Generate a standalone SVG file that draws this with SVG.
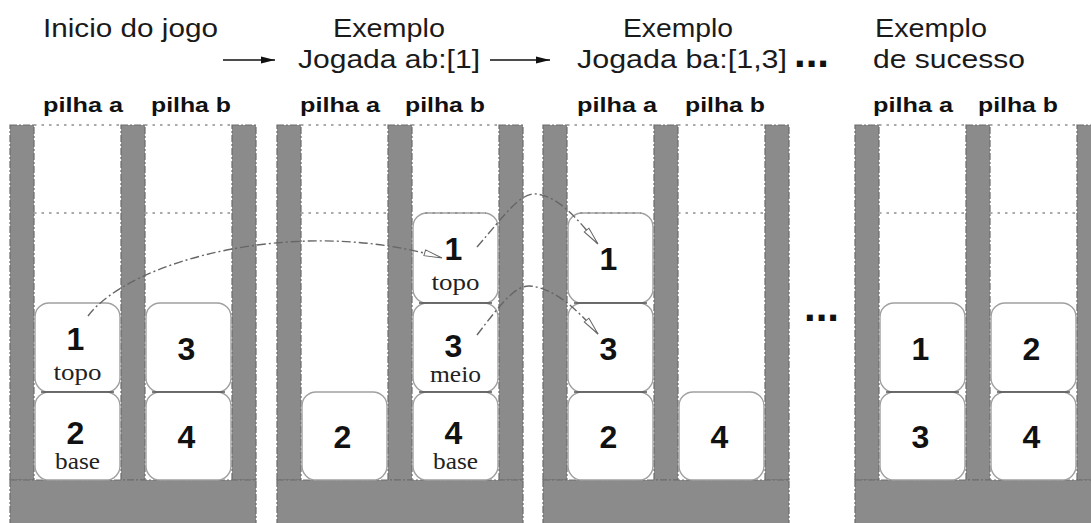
<svg xmlns="http://www.w3.org/2000/svg" width="1091" height="523" viewBox="0 0 1091 523">
  <defs>
    <style>
      .title{font-family:"Liberation Sans",Arial,sans-serif;font-size:26px;fill:#1a1a1a}
      .head{font-family:"Liberation Sans",Arial,sans-serif;font-size:21px;font-weight:bold;fill:#111}
      .num{font-family:"Liberation Sans",Arial,sans-serif;font-size:32px;font-weight:bold;fill:#111;text-anchor:middle}
      .lbl{font-family:"Liberation Serif","Times New Roman",serif;font-size:23px;fill:#222;text-anchor:middle}
      .more{font-family:"Liberation Sans",Arial,sans-serif;font-size:42px;font-weight:bold;fill:#111}
      .wall{fill:#8b8b8b;stroke:#6c6c6c;stroke-width:1.2;stroke-dasharray:7 2 2 2}
      .dots{stroke:#8e8e8e;stroke-width:1.5;stroke-dasharray:2.5 5}
      .block{fill:#fff;stroke:#a0a0a0;stroke-width:1.4}
      .seam{stroke:#555;stroke-width:1.6}
      .link{fill:none;stroke:#666;stroke-width:1.4;stroke-dasharray:9 3 2 3}
      .step{stroke:#111;stroke-width:1.6}
    </style>
    <marker id="open" markerUnits="userSpaceOnUse" markerWidth="20" markerHeight="10" refX="19" refY="4" orient="auto" viewBox="0 0 20 8">
      <path d="M1,1 L19,4 L1,7 z" fill="#fff" stroke="#666" stroke-width="1"/>
    </marker>
    <marker id="solid" markerUnits="userSpaceOnUse" markerWidth="15" markerHeight="8" refX="14" refY="3.5" orient="auto" viewBox="0 0 15 7">
      <path d="M0,0 L14,3.5 L0,7 z" fill="#111"/>
    </marker>
  </defs>

  <rect width="1091" height="523" fill="#fff"/>

  <!-- headings above the four states -->
  <g id="titles">
    <text class="title" x="43" y="37" textLength="175" lengthAdjust="spacingAndGlyphs">Inicio do jogo</text>
    <text class="title" x="333" y="37" textLength="112" lengthAdjust="spacingAndGlyphs">Exemplo</text>
    <text class="title" x="298" y="68" textLength="182" lengthAdjust="spacingAndGlyphs">Jogada ab:[1]</text>
    <text class="title" x="623" y="37" textLength="110" lengthAdjust="spacingAndGlyphs">Exemplo</text>
    <text class="title" x="577" y="68" textLength="210" lengthAdjust="spacingAndGlyphs">Jogada ba:[1,3]</text>
    <text class="more" x="794" y="67">...</text>
    <text class="title" x="875" y="37" textLength="112" lengthAdjust="spacingAndGlyphs">Exemplo</text>
    <text class="title" x="873" y="68" textLength="152" lengthAdjust="spacingAndGlyphs">de sucesso</text>
  </g>

  <!-- state 1: start of the game -->
  <g id="inicio" transform="translate(10,0)">
    <rect class="wall" x="0" y="125" width="24" height="355"/>
    <rect class="wall" x="111" y="125" width="24" height="355"/>
    <rect class="wall" x="222" y="125" width="24" height="355"/>
    <rect class="wall" x="0" y="480" width="246" height="50"/>
    <text class="head" x="33" y="112" textLength="80" lengthAdjust="spacingAndGlyphs">pilha a</text>
    <text class="head" x="141" y="112" textLength="80" lengthAdjust="spacingAndGlyphs">pilha b</text>
    <g id="inicio-a-1"><rect class="block" x="25" y="303" width="85" height="89" rx="14"/><text class="num" x="65.5" y="350">1</text><text class="lbl" x="67.5" y="380" textLength="48" lengthAdjust="spacingAndGlyphs">topo</text></g>
    <g id="inicio-a-2"><rect class="block" x="25" y="392" width="85" height="88" rx="14"/><text class="num" x="65.5" y="444">2</text><text class="lbl" x="67.5" y="469" textLength="45" lengthAdjust="spacingAndGlyphs">base</text></g>
    <g id="inicio-b-3"><rect class="block" x="136" y="303" width="85" height="89" rx="14"/><text class="num" x="176.5" y="359.5">3</text></g>
    <g id="inicio-b-4"><rect class="block" x="136" y="392" width="85" height="88" rx="14"/><text class="num" x="176.5" y="448">4</text></g>
    <line class="seam" x1="31" y1="392" x2="104" y2="392"/>
    <line class="seam" x1="142" y1="392" x2="215" y2="392"/>
    <line class="dots" x1="24" y1="125" x2="111" y2="125"/>
    <line class="dots" x1="135" y1="125" x2="222" y2="125"/>
    <line class="dots" x1="24" y1="213" x2="111" y2="213"/>
    <line class="dots" x1="135" y1="213" x2="222" y2="213"/>
  </g>

  <!-- state 2: after move ab:[1] -->
  <g id="jogada-ab" transform="translate(277,0)">
    <rect class="wall" x="0" y="125" width="24" height="355"/>
    <rect class="wall" x="111" y="125" width="24" height="355"/>
    <rect class="wall" x="222" y="125" width="24" height="355"/>
    <rect class="wall" x="0" y="480" width="246" height="50"/>
    <text class="head" x="23" y="112" textLength="80" lengthAdjust="spacingAndGlyphs">pilha a</text>
    <text class="head" x="128" y="112" textLength="80" lengthAdjust="spacingAndGlyphs">pilha b</text>
    <g id="ab-a-2"><rect class="block" x="25" y="392" width="85" height="88" rx="14"/><text class="num" x="65.5" y="448">2</text></g>
    <g id="ab-b-1"><rect class="block" x="136" y="213" width="85" height="90" rx="14"/><text class="num" x="176.5" y="260">1</text><text class="lbl" x="178.5" y="290" textLength="48" lengthAdjust="spacingAndGlyphs">topo</text></g>
    <g id="ab-b-3"><rect class="block" x="136" y="303" width="85" height="89" rx="14"/><text class="num" x="176.5" y="357">3</text><text class="lbl" x="178.5" y="382" textLength="51" lengthAdjust="spacingAndGlyphs">meio</text></g>
    <g id="ab-b-4"><rect class="block" x="136" y="392" width="85" height="88" rx="14"/><text class="num" x="176.5" y="444">4</text><text class="lbl" x="178.5" y="469" textLength="45" lengthAdjust="spacingAndGlyphs">base</text></g>
    <line class="seam" x1="142" y1="303" x2="215" y2="303"/>
    <line class="seam" x1="142" y1="392" x2="215" y2="392"/>
    <line class="dots" x1="24" y1="125" x2="111" y2="125"/>
    <line class="dots" x1="135" y1="125" x2="222" y2="125"/>
    <line class="dots" x1="24" y1="213" x2="111" y2="213"/>
    <line class="dots" x1="148" y1="213" x2="209" y2="213"/>
  </g>

  <!-- state 3: after move ba:[1,3] -->
  <g id="jogada-ba" transform="translate(543,0)">
    <rect class="wall" x="0" y="125" width="24" height="355"/>
    <rect class="wall" x="111" y="125" width="24" height="355"/>
    <rect class="wall" x="222" y="125" width="24" height="355"/>
    <rect class="wall" x="0" y="480" width="246" height="50"/>
    <text class="head" x="34" y="112" textLength="80" lengthAdjust="spacingAndGlyphs">pilha a</text>
    <text class="head" x="142" y="112" textLength="80" lengthAdjust="spacingAndGlyphs">pilha b</text>
    <g id="ba-a-1"><rect class="block" x="25" y="213" width="85" height="90" rx="14"/><text class="num" x="65.5" y="270">1</text></g>
    <g id="ba-a-3"><rect class="block" x="25" y="303" width="85" height="89" rx="14"/><text class="num" x="65.5" y="359.5">3</text></g>
    <g id="ba-a-2"><rect class="block" x="25" y="392" width="85" height="88" rx="14"/><text class="num" x="65.5" y="448">2</text></g>
    <g id="ba-b-4"><rect class="block" x="136" y="392" width="85" height="88" rx="14"/><text class="num" x="176.5" y="448">4</text></g>
    <line class="seam" x1="31" y1="303" x2="104" y2="303"/>
    <line class="seam" x1="31" y1="392" x2="104" y2="392"/>
    <line class="dots" x1="24" y1="125" x2="111" y2="125"/>
    <line class="dots" x1="135" y1="125" x2="222" y2="125"/>
    <line class="dots" x1="37" y1="213" x2="98" y2="213"/>
    <line class="dots" x1="135" y1="213" x2="222" y2="213"/>
  </g>

  <text class="more" x="804" y="321">...</text>

  <!-- state 4: a solved position -->
  <g id="sucesso" transform="translate(855,0)">
    <rect class="wall" x="0" y="125" width="24" height="355"/>
    <rect class="wall" x="111" y="125" width="24" height="355"/>
    <rect class="wall" x="222" y="125" width="24" height="355"/>
    <rect class="wall" x="0" y="480" width="246" height="50"/>
    <text class="head" x="18" y="112" textLength="80" lengthAdjust="spacingAndGlyphs">pilha a</text>
    <text class="head" x="123" y="112" textLength="80" lengthAdjust="spacingAndGlyphs">pilha b</text>
    <g id="sucesso-a-1"><rect class="block" x="25" y="303" width="85" height="89" rx="14"/><text class="num" x="65.5" y="359.5">1</text></g>
    <g id="sucesso-a-3"><rect class="block" x="25" y="392" width="85" height="88" rx="14"/><text class="num" x="65.5" y="448">3</text></g>
    <g id="sucesso-b-2"><rect class="block" x="136" y="303" width="85" height="89" rx="14"/><text class="num" x="176.5" y="359.5">2</text></g>
    <g id="sucesso-b-4"><rect class="block" x="136" y="392" width="85" height="88" rx="14"/><text class="num" x="176.5" y="448">4</text></g>
    <line class="seam" x1="31" y1="392" x2="104" y2="392"/>
    <line class="seam" x1="142" y1="392" x2="215" y2="392"/>
    <line class="dots" x1="24" y1="125" x2="111" y2="125"/>
    <line class="dots" x1="135" y1="125" x2="222" y2="125"/>
    <line class="dots" x1="24" y1="213" x2="111" y2="213"/>
    <line class="dots" x1="135" y1="213" x2="222" y2="213"/>
  </g>

  <!-- connectors: step arrows and block moves -->
  <g id="connectors">
    <line class="step" x1="223" y1="60" x2="275" y2="60" marker-end="url(#solid)"/>
    <line class="step" x1="490" y1="60" x2="550" y2="60" marker-end="url(#solid)"/>
    <path class="link" d="M88 316 C130 260 300 215 442 258" marker-end="url(#open)"/>
    <path class="link" d="M477 247 C505 215 520 192 537 194 C560 197 580 222 598 244" marker-end="url(#open)"/>
    <path class="link" d="M477 335 C500 305 515 285 530 286 C555 288 580 312 598 334" marker-end="url(#open)"/>
  </g>
</svg>
